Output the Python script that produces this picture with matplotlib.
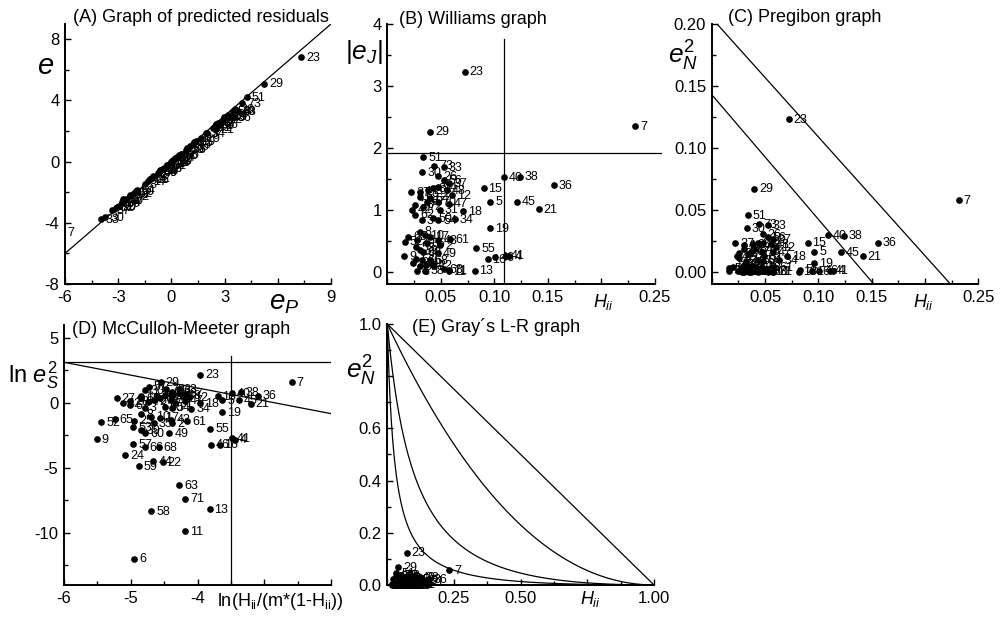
import numpy as np
import matplotlib
matplotlib.use("Agg")
import matplotlib.pyplot as plt
from matplotlib.ticker import MultipleLocator

plt.rcParams['font.family'] = ['Liberation Sans', 'DejaVu Sans']
plt.rcParams['mathtext.fontset'] = 'custom'
plt.rcParams['mathtext.rm'] = 'Liberation Sans'
plt.rcParams['mathtext.it'] = 'Liberation Sans:italic'
plt.rcParams['mathtext.bf'] = 'Liberation Sans:bold'
plt.rcParams['axes.unicode_minus'] = False

# numero de compuesto
compound = list(range(1, 74))

# leverage H_ii (graficos B, C, E)
leverage = [0.0306, 0.0494, 0.0322, 0.114, 0.0963, 0.0281, 0.2315, 0.0306, 0.0159, 0.0353,
            0.0572, 0.0604, 0.0815, 0.0478, 0.090, 0.0937, 0.040, 0.0706, 0.0963, 0.0384,
            0.1416, 0.0431, 0.0722, 0.0244, 0.0275, 0.0478, 0.0222, 0.026, 0.040, 0.0328,
            0.0494, 0.0431, 0.0525, 0.0634, 0.0369, 0.1556, 0.0572, 0.124, 0.0306, 0.109,
            0.111, 0.0234, 0.0478, 0.0366, 0.121, 0.101, 0.0572, 0.0557, 0.047, 0.0431,
            0.0338, 0.0166, 0.0272, 0.0478, 0.0831, 0.0525, 0.0272, 0.0354, 0.0306, 0.033,
            0.0588, 0.026, 0.053, 0.040, 0.0197, 0.0328, 0.0369, 0.0396, 0.0306, 0.0469,
            0.0575, 0.0338, 0.044]

# |e_J| (grafico B)
jack_res = [1.29, 0.43, 0.835, 0.245, 1.13, 0.0025, 2.35, 0.646, 0.253, 0.593,
            0.007, 1.24, 0.017, 1.36, 1.35, 0.205, 0.565, 0.98, 0.70, 1.32,
            1.01, 0.108, 3.23, 0.135, 0.51, 1.54, 1.28, 1.08, 2.26, 1.61,
            1.00, 1.35, 1.69, 0.846, 0.46, 1.40, 1.43, 1.535, 0.35, 1.525,
            0.26, 1.00, 0.51, 0.106, 1.13, 0.23, 1.10, 1.32, 0.30, 0.86,
            1.85, 0.485, 0.39, 0.835, 0.378, 1.48, 0.207, 0.0155, 0.092, 0.315,
            0.52, 0.92, 0.042, 1.19, 0.565, 0.185, 1.13, 0.185, 1.21, 1.13,
            0.025, 1.05, 1.71]

# e_N^2 (graficos C y E)
norm_res2 = [0.0211, 0.0023, 0.0089, 0.0007, 0.0162, 0.0, 0.0579, 0.0053, 0.0008, 0.0045,
             0.0, 0.0195, 0.0, 0.0235, 0.0234, 0.0005, 0.0041, 0.0127, 0.0068, 0.0221,
             0.0127, 0.0001, 0.1233, 0.0002, 0.0033, 0.0301, 0.0230, 0.0148, 0.0670, 0.0350,
             0.0127, 0.0231, 0.0377, 0.0094, 0.0027, 0.0234, 0.0260, 0.0290, 0.0016, 0.0294,
             0.0008, 0.0127, 0.0033, 0.0001, 0.0160, 0.0007, 0.0158, 0.0221, 0.0011, 0.0094,
             0.0458, 0.0030, 0.0019, 0.0089, 0.0017, 0.0278, 0.0005, 0.0, 0.0001, 0.0013,
             0.0034, 0.0107, 0.0, 0.0180, 0.0041, 0.0004, 0.0162, 0.0004, 0.0186, 0.0162,
             0.0, 0.0140, 0.0385]

# McCulloh-Meeter (grafico D)
mm_x = [-4.84, -4.38, -4.79, -3.44, -3.63, -4.95, -2.59, -4.84, -5.51, -4.69,
        -4.18, -4.13, -3.82, -4.38, -3.70, -3.67, -4.56, -3.96, -3.63, -4.61,
        -3.20, -4.52, -3.96, -5.08, -4.95, -4.38, -5.21, -5.01, -4.55, -4.78,
        -4.34, -4.49, -4.28, -4.09, -4.65, -3.10, -4.19, -3.35, -4.84, -3.49,
        -3.49, -5.12, -4.39, -4.66, -3.38, -3.80, -4.19, -4.22, -4.42, -4.49,
        -4.73, -5.44, -4.96, -4.38, -3.81, -4.28, -4.96, -4.69, -4.88, -4.78,
        -4.15, -5.01, -4.27, -4.56, -5.24, -4.79, -4.65, -4.58, -4.84, -4.40,
        -4.18, -4.74, -4.47]
mm_y = [0.51, -1.55, -0.36, -2.81, 0.24, -11.97, 1.59, -0.87, -2.77, -1.05,
        -9.87, 0.43, -8.15, 0.62, 0.51, -3.20, -1.14, -0.04, -0.72, 0.56,
        -0.05, -4.56, 2.18, -4.02, -1.35, 0.86, 0.39, 0.15, 1.59, 0.99,
        0.0, 0.60, 1.05, -0.43, -1.55, 0.57, 0.72, 0.85, -2.10, 0.77,
        -2.69, 0.0, -1.28, -4.49, 0.21, -3.20, 0.19, 0.56, -2.31, -0.30,
        1.25, -1.46, -1.88, -0.36, -1.97, 0.78, -3.15, -8.33, -4.87, -2.31,
        -1.38, -0.17, -6.33, 0.35, -1.23, -3.38, 0.24, -3.38, 0.38, 0.24,
        -7.36, 0.10, 1.07]

# residuos predichos e_P y residuos e (grafico A)
pred_res = [2.99, -1.01, 1.94, 0.59, -2.71, 0.006, -6.15, -1.50, -0.58, 1.38,
            -0.02, 2.92, 0.04, 3.18, 3.23, -0.49, -1.32, -2.32, 1.68, -3.07,
            2.49, -0.25, 7.31, 0.31, -1.18, 3.60, -2.95, 2.50, 5.24, -3.73,
            2.34, -3.15, -3.96, 1.99, 1.07, 3.47, -3.36, 3.74, 0.81, 3.68,
            -0.63, -2.31, 1.19, -0.25, 2.75, 0.55, -2.58, 3.10, -0.70, -2.00,
            4.25, -1.12, 0.90, -1.95, 0.90, 3.47, -0.48, -0.04, 0.21, -0.73,
            -1.22, -2.13, 0.10, -2.77, 1.30, 0.43, 2.63, -0.43, -2.80, -2.64,
            0.06, 2.44, 3.99]
resid = [2.90, -0.96, 1.87, 0.53, -2.45, 0.006, -4.65, -1.45, -0.57, 1.33,
         -0.02, 2.74, 0.04, 3.03, 2.94, -0.45, -1.26, -2.15, 1.52, -2.95,
         2.13, -0.24, 6.82, 0.30, -1.15, 3.43, -2.89, 2.43, 5.09, -3.61,
         2.22, -3.01, -3.75, 1.87, 1.03, 2.93, -3.17, 3.28, 0.79, 3.28,
         -0.56, -2.25, 1.14, -0.24, 2.42, 0.50, -2.44, 2.93, -0.67, -1.92,
         4.21, -1.10, 0.88, -1.86, 0.83, 3.29, -0.47, -0.04, 0.21, -0.71,
         -1.15, -2.07, 0.09, -2.66, 1.28, 0.42, 2.53, -0.41, -2.72, -2.51,
         0.06, 2.35, 3.81]

# lineas de referencia
williams_h = 0.109
williams_e = 1.91
pregibon_lines = [(0.005, 0.200, 0.2134, 0.0), (0.0, 0.143, 0.142, 0.0)]
mm_h_line = 3.13
mm_v_line = -3.5
mm_slope_line = [(-6.0, 3.13), (-2.0, -0.82)]
gray_c = [0.027, 0.10, 0.85]


def style_axes(ax):
    for s in ('top', 'right'):
        ax.spines[s].set_visible(False)
    for s in ('left', 'bottom'):
        ax.spines[s].set_linewidth(1.4)
    ax.tick_params(which='both', direction='in', labelsize=12, width=1.0)
    ax.tick_params(which='major', length=4, pad=4)
    ax.tick_params(which='minor', length=3)


def draw_points(ax, x, y, clip=True):
    ax.plot(x, y, 'o', color='black', ms=3.8, clip_on=clip, zorder=3)
    for n, xx, yy in zip(compound, x, y):
        ax.annotate(str(n), (xx, yy), xytext=(3.5, -0.5), textcoords='offset points',
                    ha='left', va='center', fontsize=9, annotation_clip=False)


fig = plt.figure(figsize=(10, 6.17), dpi=100)

# (A) residuos predichos
axA = fig.add_axes([0.065, 0.5397, 0.266, 0.4214])
style_axes(axA)
axA.plot([-6, 9], [-6, 9], color='black', lw=0.9)
draw_points(axA, pred_res, resid)
axA.set_xlim(-6, 9)
axA.set_ylim(-8, 9)
axA.set_xticks([-6, -3, 0, 3, 6, 9], ['-6', '-3', '0', '3', '', '9'])
axA.set_yticks([-8, -4, 0, 4, 8])
axA.xaxis.set_minor_locator(MultipleLocator(1.5))
axA.yaxis.set_minor_locator(MultipleLocator(2))

# (B) Williams
axB = fig.add_axes([0.3873, 0.5397, 0.2677, 0.4214])
style_axes(axB)
axB.plot([0, 0.256], [williams_e, williams_e], color='black', lw=0.9, clip_on=False)
axB.plot([williams_h, williams_h], [-0.2, 3.75], color='black', lw=0.9)
draw_points(axB, leverage, jack_res)
axB.set_xlim(0, 0.25)
axB.set_ylim(-0.2, 4)
axB.set_xticks([0, 0.05, 0.10, 0.15, 0.20, 0.25], ['', '0.05', '0.10', '0.15', '', '0.25'])
axB.set_yticks([0, 1, 2, 3, 4])
axB.xaxis.set_minor_locator(MultipleLocator(0.025))
axB.yaxis.set_minor_locator(MultipleLocator(0.5))

# (C) Pregibon
axC = fig.add_axes([0.7117, 0.5397, 0.2666, 0.4214])
style_axes(axC)
for x0, y0, x1, y1 in pregibon_lines:
    slope = (y1 - y0) / (x1 - x0)
    x_end = x1 + (-0.01 - y1) / slope
    axC.plot([x0, x_end], [y0, -0.01], color='black', lw=0.9)
draw_points(axC, leverage, norm_res2)
axC.set_xlim(0, 0.25)
axC.set_ylim(-0.01, 0.2)
axC.set_xticks([0, 0.05, 0.10, 0.15, 0.20, 0.25], ['', '0.05', '0.10', '0.15', '', '0.25'])
axC.set_yticks([0, 0.05, 0.10, 0.15, 0.20], ['0.00', '0.05', '0.10', '0.15', '0.20'])
axC.xaxis.set_minor_locator(MultipleLocator(0.025))
axC.yaxis.set_minor_locator(MultipleLocator(0.025))

# (D) McCulloh-Meeter
axD = fig.add_axes([0.064, 0.0519, 0.267, 0.4214])
style_axes(axD)
axD.plot([-6, -2], [mm_h_line, mm_h_line], color='black', lw=0.9)
axD.plot([mm_v_line, mm_v_line], [-14, 3.6], color='black', lw=0.9)
axD.plot([p[0] for p in mm_slope_line], [p[1] for p in mm_slope_line], color='black', lw=0.9)
draw_points(axD, mm_x, mm_y)
axD.set_xlim(-6, -2)
axD.set_ylim(-14, 6)
axD.set_xticks([-6, -5, -4, -3, -2], ['-6', '-5', '-4', '', ''])
axD.set_yticks([-10, -5, 0, 5])
axD.xaxis.set_minor_locator(MultipleLocator(0.5))
axD.yaxis.set_minor_locator(MultipleLocator(2.5))

# (E) Gray L-R
axE = fig.add_axes([0.3873, 0.0519, 0.2667, 0.423])
style_axes(axE)
hh = np.linspace(0, 1, 600)
axE.plot([0, 1], [1, 0], color='black', lw=0.9)
for c in gray_c:
    axE.plot(hh, c * (1 - hh) ** 2 / (hh + c * (1 - hh)), color='black', lw=0.9)
draw_points(axE, leverage, norm_res2, clip=False)
axE.set_xlim(0, 1)
axE.set_ylim(0, 1)
axE.set_xticks([0, 0.25, 0.5, 0.75, 1.0], ['', '0.25', '0.50', '', '1.00'])
axE.set_yticks([0, 0.2, 0.4, 0.6, 0.8, 1.0], ['0.0', '0.2', '0.4', '0.6', '', '1.0'])
axE.xaxis.set_minor_locator(MultipleLocator(0.125))
axE.yaxis.set_minor_locator(MultipleLocator(0.1))


def px(x, y):
    return x / 1000, 1 - y / 617


# titulos
titles = [('(A) Graph of predicted residuals', 73, 18),
          ('(B) Williams graph', 399, 19),
          ('(C) Pregibon graph', 728, 18),
          ('(D) McCulloh-Meeter graph', 72, 330),
          ('(E) Gray\u00b4s L-R graph', 412, 327)]
for t, x, y in titles:
    fig.text(*px(x, y), t, fontsize=13, ha='left', va='center')

# etiquetas de ejes
fig.text(*px(46, 66), r'$e$', fontsize=21, ha='center', va='center')
fig.text(*px(284, 303), r'$e_P$', fontsize=20, ha='center', va='center')
fig.text(*px(364, 52), r'|$e_J$|', fontsize=19, ha='center', va='center')
fig.text(*px(603, 302), r'$H_{ii}$', fontsize=13, ha='center', va='center')
fig.text(*px(683, 56), r'$e_N^2$', fontsize=19, ha='center', va='center')
fig.text(*px(923, 302), r'$H_{ii}$', fontsize=13, ha='center', va='center')
fig.text(*px(33, 375), r'ln $e_S^2$', fontsize=17, ha='center', va='center')
fig.text(*px(280, 602), r'ln(H$_{\rm ii}$/(m*(1-H$_{\rm ii}$))', fontsize=13, ha='center', va='center')
fig.text(*px(361, 371), r'$e_N^2$', fontsize=19, ha='center', va='center')
fig.text(*px(590, 599), r'$H_{ii}$', fontsize=13, ha='center', va='center')

fig.savefig('out.png', dpi=100)
